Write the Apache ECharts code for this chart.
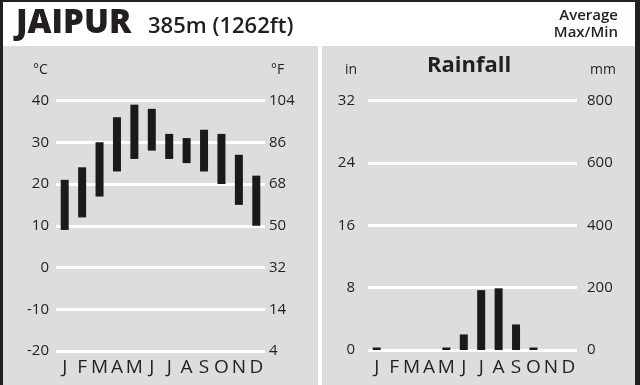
<!DOCTYPE html>
<html><head><meta charset="utf-8">
<script src="https://cdn.jsdelivr.net/npm/echarts@6/dist/echarts.min.js"></script>
<style>html,body{margin:0;padding:0;background:#fff}#c{width:640px;height:385px}</style>
</head><body><div id="c"></div>
<script>
var months = ['J','F','M','A','M','J','J','A','S','O','N','D'];
var tempMaxC = [21,24,30,36,39,38,32,31,33,32,27,22];
var tempMinC = [9,12,17,23,26,28,26,25,23,20,15,10];
var rainMm = [8,0,0,0,8,50,192,198,82,8,0,0];
var celsiusTicks = [-20,-10,0,10,20,30,40];
var fahrenheitTicks = ['4','14','32','50','68','86','104'];
var inchTicks = [0,8,16,24,32];
var mmTicks = [0,200,400,600,800];

var FONT = '"Open Sans", "Noto Sans", sans-serif';
var TXT = '#231f20';
var GREY = '#dcdddf';

var chart = echarts.init(document.getElementById('c'), null, {renderer:'canvas'});
var rangeC = tempMaxC.map(function(v,i){return v - tempMinC[i];});

function txt(x,y,s,size,weight,align){
  return {type:'text', x:x, y:y, z:5, style:{text:s, fill:TXT, font:(weight||'normal')+' '+size+'px '+FONT, textAlign:align||'left', textVerticalAlign:'middle'}};
}

var option = {
  animation:false,
  backgroundColor:'#231f20',
  graphic:[
    {type:'rect', z:-10, shape:{x:3,y:2,width:632,height:383}, style:{fill:'#fff'}},
    {type:'rect', z:-10, shape:{x:3,y:46,width:315,height:339}, style:{fill:GREY}},
    {type:'rect', z:-10, shape:{x:322,y:46,width:313,height:339}, style:{fill:GREY}},
    txt(16,24,'JAIPUR',33,'800'),
    txt(148,27,'385m (1262ft)',22,'600'),
    txt(618,16,'Average',15,'600','right'),
    txt(618,33,'Max/Min',15,'600','right'),
    txt(33,70,'°C',14,'normal'),
    txt(271,70,'°F',14,'normal'),
    txt(345,70,'in',14,'normal'),
    txt(590,70,'mm',14,'normal'),
    txt(469,66,'Rainfall',22,'bold','center')
  ],
  grid:[
    {left:56, right:375, top:100.5, bottom:34},
    {left:368, right:63, top:100.7, bottom:35}
  ],
  xAxis:[
    {gridIndex:0, type:'category', data:months, axisLine:{show:false}, axisTick:{show:false},
     axisLabel:{color:TXT, fontFamily:FONT, fontSize:19, margin:7, interval:0}},
    {gridIndex:1, type:'category', data:months, axisLine:{show:false}, axisTick:{show:false},
     axisLabel:{color:TXT, fontFamily:FONT, fontSize:19, margin:8, interval:0}}
  ],
  yAxis:[
    {gridIndex:0, type:'value', min:-20, max:40, interval:10, axisLine:{show:false}, axisTick:{show:false},
     splitLine:{lineStyle:{color:'#fff', width:3}},
     axisLabel:{color:TXT, fontFamily:FONT, fontSize:15, margin:7,
       formatter:function(v){return celsiusTicks.indexOf(v)>=0 ? String(v) : '';}}},
    {gridIndex:0, type:'value', position:'right', min:-20, max:40, interval:10, axisLine:{show:false}, axisTick:{show:false},
     splitLine:{show:false},
     axisLabel:{color:TXT, fontFamily:FONT, fontSize:15, margin:4,
       formatter:function(v){var i=celsiusTicks.indexOf(v); return i>=0 ? fahrenheitTicks[i] : '';}}},
    {gridIndex:1, type:'value', min:0, max:32, interval:8, axisLine:{show:false}, axisTick:{show:false},
     splitLine:{lineStyle:{color:'#fff', width:3}},
     axisLabel:{color:TXT, fontFamily:FONT, fontSize:15, margin:13,
       formatter:function(v){return inchTicks.indexOf(v)>=0 ? String(v) : '';}}},
    {gridIndex:1, type:'value', position:'right', min:0, max:800, interval:200, axisLine:{show:false}, axisTick:{show:false},
     splitLine:{show:false},
     axisLabel:{color:TXT, fontFamily:FONT, fontSize:15, margin:10,
       formatter:function(v){return mmTicks.indexOf(v)>=0 ? String(v) : '';}}}
  ],
  series:[
    {type:'bar', xAxisIndex:0, yAxisIndex:0, stack:'t', data:tempMinC, barWidth:8, itemStyle:{color:'rgba(0,0,0,0)'}, silent:true},
    {type:'bar', xAxisIndex:0, yAxisIndex:0, stack:'t', data:rangeC, barWidth:8, itemStyle:{color:'#1a1a1a'}},
    {type:'bar', xAxisIndex:1, yAxisIndex:3, data:rainMm, barWidth:8, itemStyle:{color:'#1a1a1a'}}
  ]
};
chart.setOption(option);
</script>
</body></html>
